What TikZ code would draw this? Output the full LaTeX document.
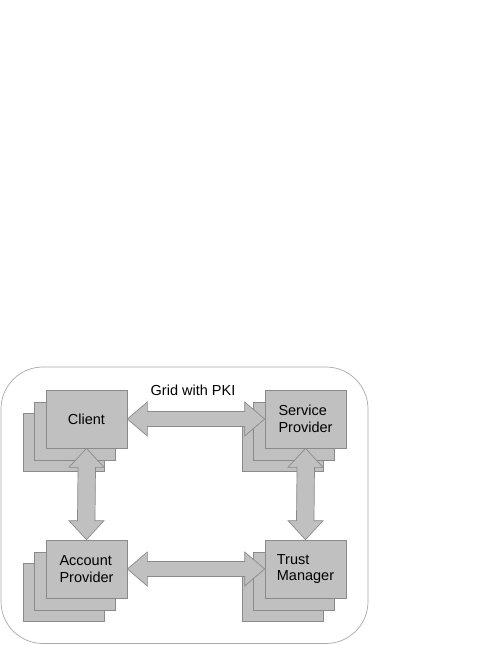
\documentclass[tikz,border=0pt]{standalone}
\usepackage{fontspec}
\setmainfont{Liberation Sans}
\usetikzlibrary{calc}
\definecolor{boxfill}{HTML}{C0C0C0}
\definecolor{boxline}{HTML}{8A8A8A}
\definecolor{frameline}{HTML}{A8A8A8}
\tikzset{
  card/.style={draw=boxline, fill=boxfill, line width=0.7pt, minimum width=81pt, minimum height=58pt, inner sep=0pt, font=\fontsize{14.5}{16.5}\selectfont, align=left},
  blockarrow/.style={draw=boxline, fill=boxfill, line width=0.7pt, line join=miter},
  lbl/.style={font=\fontsize{14.5}{16.5}\selectfont}
}
\newcommand\harrow[2]{%
  \draw[blockarrow] (#1) -- ++(20,-17) -- ++(0,9.5) -- ($(#2)+(-20,-7.5)$) -- ++(0,-9.5) -- (#2)
    -- ++(-20,17) -- ++(0,-9.5) -- ($(#1)+(20,7.5)$) -- ++(0,9.5) -- cycle;}
\newcommand\varrow[2]{%
  \draw[blockarrow] (#1) -- ++(17.5,19) -- ++(-8.5,0) -- ($(#2)+(8.5,-19)$) -- ++(9,0) -- (#2)
    -- ++(-17.5,-19) -- ++(8.5,0) -- ($(#1)+(-8.5,19)$) -- ++(-9,0) -- cycle;}
\begin{document}
\begin{tikzpicture}[x=1pt,y=-1pt]
\useasboundingbox (0,0) rectangle (498,645);
\fill[white] (0,0) rectangle (498,645);
\draw[frameline, line width=0.7pt, rounded corners=42pt] (1,367) rectangle (368,643.5);
% Client
\node[card] (c3) at (63.5,442) {};
\node[card] (c2) at (75,431) {};
\node[card] (client) at (86.5,419) {Client};
% Service Provider
\node[card] (s3) at (282.5,442) {};
\node[card] (s2) at (294,431) {};
\node[card] (service) at (305.5,419) {Service\\Provider};
% Account Provider
\node[card] (a3) at (63.5,592) {};
\node[card] (a2) at (75,581) {};
\node[card] (account) at (86.5,569) {Account\\Provider};
% Trust Manager
\node[card] (t3) at (282.5,592) {};
\node[card] (t2) at (294,581) {};
\node[card] (trust) at (305.5,569) {Trust\\Manager};
% arrows
\harrow{client.east}{service.west}
\harrow{account.east}{trust.west}
\varrow{client.south}{account.north}
\varrow{service.south}{trust.north}
\node[lbl] (grid) at (193,390) {Grid with PKI};
\end{tikzpicture}
\end{document}
